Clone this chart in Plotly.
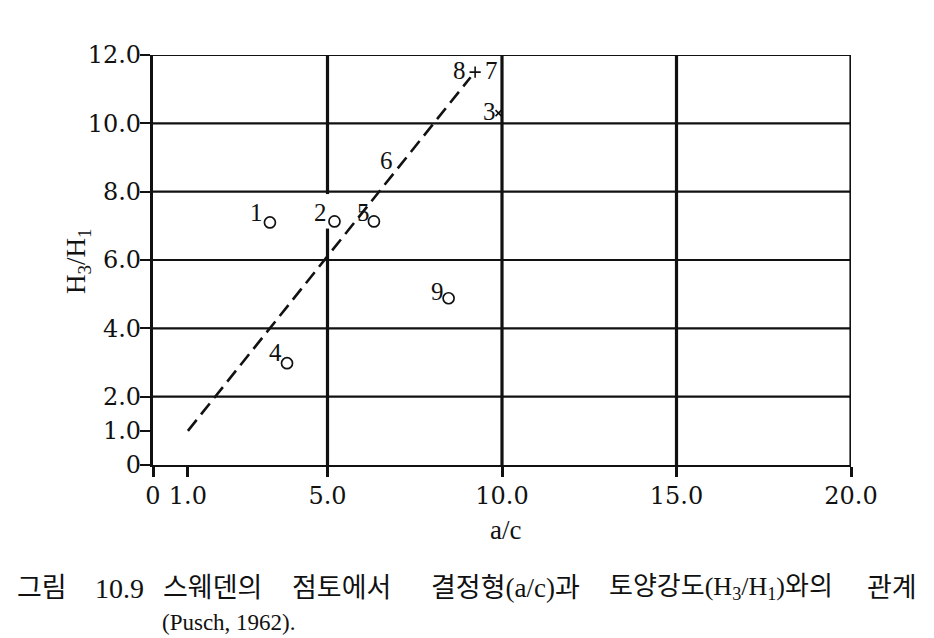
import plotly.graph_objects as go

# ---- data ----
circle_labels = ["1", "2", "4", "5", "9"]
circle_x = [3.35, 5.2, 3.84, 6.33, 8.47]
circle_y = [7.1, 7.13, 2.98, 7.13, 4.88]

cross_labels = ["3"]
cross_x = [9.9]
cross_y = [10.3]

pair_labels = ["8", "7"]
pair_x = [9.23]
pair_y = [11.5]

label6_text = ["6"]
label6_x = [6.68]
label6_y = [8.92]

trend_x = [1.0, 9.1]
trend_y = [1.0, 11.35]

x_tickvals = [0, 1, 5, 10, 15, 20]
x_ticktext = ["0", "1.0", "5.0", "10.0", "15.0", "20.0"]
y_tickvals = [0, 1, 2, 4, 6, 8, 10, 12]
y_ticktext = ["0", "1.0", "2.0", "4.0", "6.0", "8.0", "10.0", "12.0"]
x_grid = [5, 10, 15, 20]
y_grid = [2, 4, 6, 8, 10, 12]
gap_x = 5
gap_y = [6.92, 7.93]

caption_words = ["그림", "10.9", "스웨덴의", "점토에서", "결정형(a/c)과",
                 "토양강도(H<sub>3</sub>/H<sub>1</sub>)와의", "관계"]
caption_line2 = "(Pusch, 1962)."

# ---- layout helpers (pixel positions in the page) ----
PX0, PX1, PY0, PY1 = 153, 851, 465, 55
def px2paper_x(px):
    return (px - PX0) / (PX1 - PX0)
def px2paper_y(py):
    return (PY0 - py) / (PY0 - PY1)

TICKFONT = dict(family="DejaVu Serif, serif", size=24, color="#111")
SERIF = "Liberation Serif, Noto Sans CJK KR, serif"
INK = "#111"

fig = go.Figure()

fig.add_trace(go.Scatter(
    x=trend_x, y=trend_y, mode="lines",
    line=dict(color=INK, width=2.6, dash="14px,7px"),
    hoverinfo="skip", showlegend=False))

fig.add_trace(go.Scatter(
    x=circle_x, y=circle_y, mode="markers",
    marker=dict(symbol="circle-open", size=11, color=INK, line=dict(width=1.7)),
    showlegend=False))

fig.add_trace(go.Scatter(
    x=cross_x, y=cross_y, mode="markers",
    marker=dict(symbol="x-thin", size=6, color=INK, line=dict(width=1.6, color=INK)),
    showlegend=False))

fig.add_trace(go.Scatter(
    x=pair_x, y=pair_y, mode="markers",
    marker=dict(symbol="cross-thin", size=8, color=INK, line=dict(width=1.6, color=INK)),
    showlegend=False))

annotations = []
lab_font = dict(family=SERIF, size=25, color=INK)
circle_offsets = [(-13, 10), (-14, 9), (-12, 11), (-10, 9), (-11, 7)]
for t, x, y, (dx, dy) in zip(circle_labels, circle_x, circle_y, circle_offsets):
    annotations.append(dict(text=t, x=x, y=y, xref="x", yref="y", showarrow=False,
                            xshift=dx, yshift=dy, font=lab_font))
for t, x, y in zip(cross_labels, cross_x, cross_y):
    annotations.append(dict(text=t, x=x, y=y, xref="x", yref="y", showarrow=False,
                            xshift=-9, yshift=2, font=lab_font))
annotations.append(dict(text=pair_labels[0], x=pair_x[0], y=pair_y[0], xref="x", yref="y",
                        showarrow=False, xshift=-16, yshift=2, font=lab_font))
annotations.append(dict(text=pair_labels[1], x=pair_x[0], y=pair_y[0], xref="x", yref="y",
                        showarrow=False, xshift=16, yshift=2, font=lab_font))
for t, x, y in zip(label6_text, label6_x, label6_y):
    annotations.append(dict(text=t, x=x, y=y, xref="x", yref="y", showarrow=False,
                            font=lab_font))

# axis titles
annotations.append(dict(text="a/c", x=px2paper_x(505), y=px2paper_y(530), xref="paper", yref="paper",
                        showarrow=False, xanchor="center", yanchor="middle",
                        font=dict(family=SERIF, size=27, color=INK)))
annotations.append(dict(text="H<sub>3</sub>/H<sub>1</sub>", x=px2paper_x(78), y=px2paper_y(262),
                        xref="paper", yref="paper", textangle=-90,
                        showarrow=False, xanchor="center", yanchor="middle",
                        font=dict(family=SERIF, size=27, color=INK)))

# caption (word centres as in the printed figure)
caption_centre = [42, 119, 212, 341, 505, 721, 892]
caption_size = [27, 28, 27, 27, 27, 26, 27]
for w, cx, fs in zip(caption_words, caption_centre, caption_size):
    annotations.append(dict(text=w, x=px2paper_x(cx), y=px2paper_y(588), xref="paper", yref="paper",
                            xanchor="center", yanchor="middle", showarrow=False,
                            font=dict(family=SERIF, size=fs, color=INK)))
annotations.append(dict(text=caption_line2, x=px2paper_x(160), y=px2paper_y(622),
                        xref="paper", yref="paper", xanchor="left", yanchor="middle",
                        showarrow=False, font=dict(family=SERIF, size=23, color=INK)))

shapes = []
for gx in x_grid:
    shapes.append(dict(type="line", xref="x", yref="y", x0=gx, x1=gx, y0=0, y1=12,
                       line=dict(color=INK, width=3.2), layer="below"))
for gy in y_grid:
    shapes.append(dict(type="line", xref="x", yref="y", x0=0, x1=20, y0=gy, y1=gy,
                       line=dict(color=INK, width=2.2), layer="below"))
shapes.append(dict(type="rect", xref="x", yref="y", x0=gap_x - 0.15, x1=gap_x + 0.15,
                   y0=gap_y[0], y1=gap_y[1], fillcolor="white", line=dict(width=0),
                   layer="below"))

# page body has an 8px margin: figure is 926x630 placed at (8, 8)
fig.update_layout(
    width=926, height=630,
    margin=dict(l=PX0 - 8, r=926 - (PX1 - 8), t=PY1 - 8, b=630 - (PY0 - 8)),
    paper_bgcolor="white", plot_bgcolor="white",
    shapes=shapes, annotations=annotations,
    xaxis=dict(range=[0, 20], tickvals=x_tickvals, ticktext=x_ticktext,
               showgrid=False, zeroline=False, showline=True, linecolor=INK, linewidth=2.2,
               ticks="outside", ticklen=10, tickwidth=3, tickcolor=INK,
               tickfont=TICKFONT, automargin=False, ticklabelstandoff=-2),
    yaxis=dict(range=[0, 12], tickvals=y_tickvals, ticktext=y_ticktext,
               showgrid=False, zeroline=False, showline=True, linecolor=INK, linewidth=3.2,
               ticks="outside", ticklen=10, tickwidth=2, tickcolor=INK,
               tickfont=TICKFONT, automargin=False, ticklabelstandoff=-6),
)

fig.write_html("out.html")
